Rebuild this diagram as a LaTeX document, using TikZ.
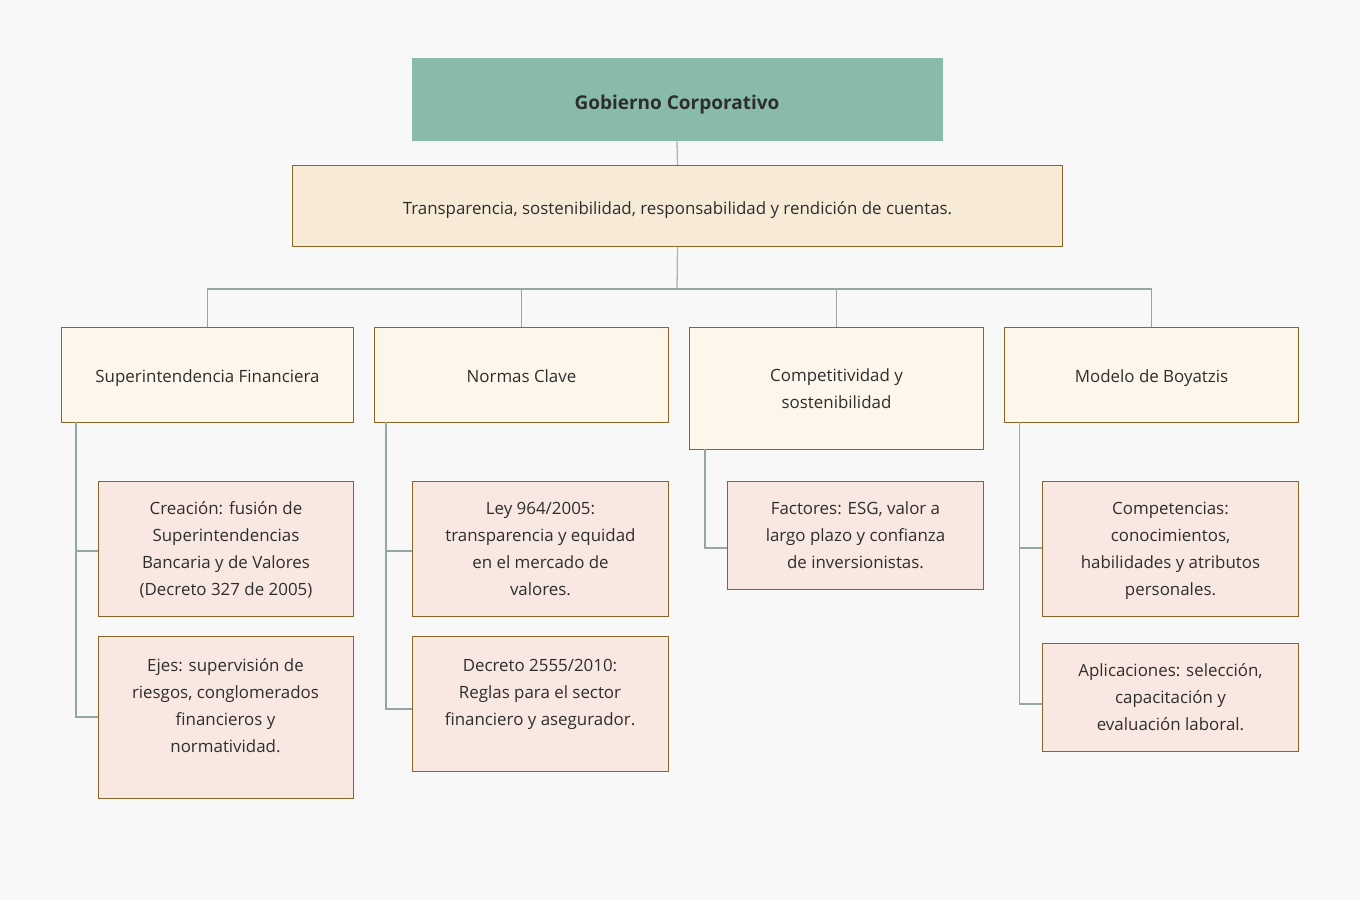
\documentclass[tikz,border=0pt]{standalone}
\usepackage{fontspec}
\setmainfont{Open Sans}
\usetikzlibrary{positioning,calc}
\definecolor{bg}{HTML}{F8F8F8}
\definecolor{teal}{HTML}{89BBA9}
\definecolor{cream}{HTML}{F7EAD7}
\definecolor{lvltwo}{HTML}{FDF6EA}
\definecolor{lvlthree}{HTML}{F9E8E1}
\definecolor{bord}{HTML}{8C6526}
\definecolor{conn}{HTML}{95A6A3}
\definecolor{connlt}{HTML}{B3B3B3}
\definecolor{ink}{HTML}{2E2E2E}
\tikzset{
  x=1pt, y=-1pt,
  base/.style={rectangle, inner sep=0pt, anchor=north west, text=ink, align=center,
    font=\fontsize{16.9}{27}\selectfont, line width=1pt, text depth=0pt},
  topbox/.style={base, fill=teal, font=\fontsize{19}{27}\selectfont\bfseries, text height=20pt},
  subbox/.style={base, fill=cream, draw=bord, text height=16pt},
  cat/.style={base, fill=lvltwo, draw=bord},
  leaf/.style={base, fill=lvlthree, draw=bord},
  txt/.style={inner sep=0pt, text=ink, align=center, font=\fontsize{16.9}{27}\selectfont, text depth=0pt},
  link/.style={draw=conn, line width=1.3pt},
  linklt/.style={draw=connlt, line width=1.3pt},
}
\begin{document}
\begin{tikzpicture}
\fill[bg] (0,0) rectangle (1360,900);
\useasboundingbox (0,0) rectangle (1360,900);

\node[topbox, minimum width=531, minimum height=83] (root) at (411,57) {Gobierno Corporativo};
\node[subbox, minimum width=770, minimum height=81] (sub) at (292,165) {Transparencia, sostenibilidad, responsabilidad y rendición de cuentas.};

\node[cat, minimum width=292, minimum height=95, text height=14pt] (ca) at (61,327) {Superintendencia Financiera};
\node[cat, minimum width=294, minimum height=95, text height=14pt] (cb) at (374,327) {Normas Clave};
\node[cat, minimum width=294, minimum height=122] (cc) at (689,327) {Competitividad y\\sostenibilidad};
\node[cat, minimum width=294, minimum height=95, text height=14pt] (cd) at (1004,327) {Modelo de Boyatzis};

\node[leaf, minimum width=255, minimum height=135] (a1) at (98,481) {Creación: fusión de\\Superintendencias\\Bancaria y de Valores\\(Decreto 327 de 2005)};
\node[leaf, minimum width=255, minimum height=162] (a2) at (98,636) {};
\node[txt] (a2t) at (225.5,705.5) {Ejes: supervisión de\\riesgos, conglomerados\\financieros y\\normatividad.};

\node[leaf, minimum width=256, minimum height=135] (b1) at (412,481) {Ley 964/2005:\\transparencia y equidad\\en el mercado de\\valores.};
\node[leaf, minimum width=256, minimum height=135] (b2) at (412,636) {};
\node[txt] (b2t) at (540,692.5) {Decreto 2555/2010:\\Reglas para el sector\\financiero y asegurador.};

\node[leaf, minimum width=256, minimum height=108] (c1) at (727,481) {Factores: ESG, valor a\\largo plazo y confianza\\de inversionistas.};

\node[leaf, minimum width=256, minimum height=135] (d1) at (1042,481) {Competencias:\\conocimientos,\\habilidades y atributos\\personales.};
\node[leaf, minimum width=256, minimum height=108] (d2) at (1042,643) {Aplicaciones: selección,\\capacitación y\\evaluación laboral.};

% top connectors
\draw[linklt] (root.south) -- (sub.north);
\coordinate (bus) at (677,289);
\draw[linklt] (sub.south) -- (bus);
\draw[link] (ca.north) -- (ca.north |- bus) -- (cd.north |- bus) -- (cd.north);
\draw[link] (cb.north) -- (cb.north |- bus);
\draw[link] (cc.north) -- (cc.north |- bus);

% group A
\coordinate (ta) at (76,422);
\draw[link] (ta) -- (76,717) -- (a2.west |- 0,717);
\draw[link] (76,551) -- (a1.west |- 0,551);
% group B
\coordinate (tb) at (386,422);
\draw[link] (tb) -- (386,709) -- (b2.west |- 0,709);
\draw[link] (386,551) -- (b1.west |- 0,551);
% group C
\coordinate (tc) at (705,449);
\draw[link] (tc) -- (705,548) -- (c1.west |- 0,548);
% group D
\coordinate (td) at (1019.5,422);
\draw[link] (td) -- (1019.5,704) -- (d2.west |- 0,704);
\draw[link] (1019.5,548) -- (d1.west |- 0,548);
\end{tikzpicture}
\end{document}
